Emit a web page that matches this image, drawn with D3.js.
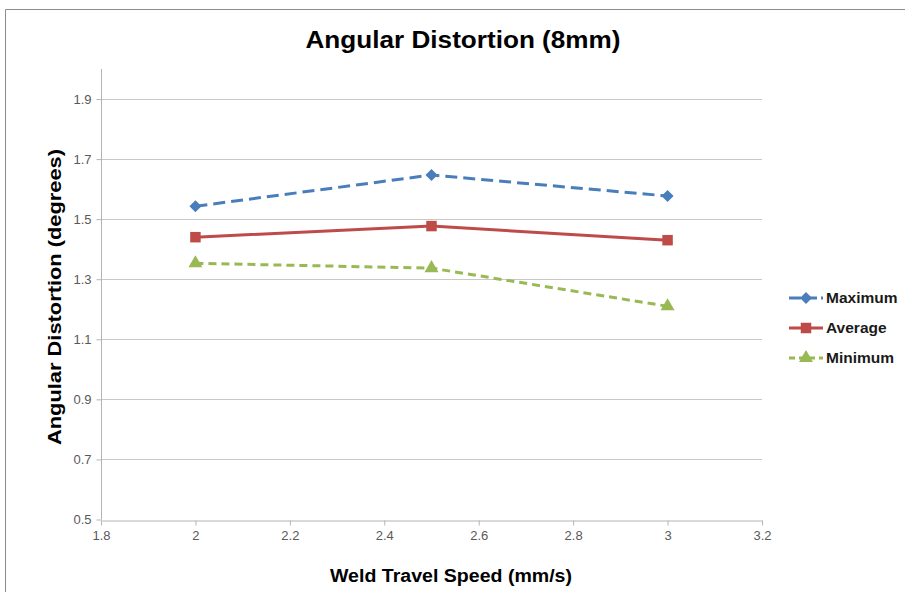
<!DOCTYPE html>
<html>
<head>
<meta charset="utf-8">
<script src="https://cdn.jsdelivr.net/npm/d3@7"></script>
<style>
  body { margin: 0; background: #fff; }
  svg { display: block; font-family: "Liberation Sans", Arial, sans-serif; }
</style>
</head>
<body>
<svg width="905" height="592"></svg>
<script>
const speeds = [2, 2.5, 3];
const maximum = [1.543, 1.647, 1.577];
const average = [1.44, 1.477, 1.43];
const minimum = [1.353, 1.337, 1.21];
const xTicks = [1.8, 2, 2.2, 2.4, 2.6, 2.8, 3, 3.2];
const yTicks = [0.5, 0.7, 0.9, 1.1, 1.3, 1.5, 1.7, 1.9];

const series = [
  { name: "Maximum", values: maximum, color: "#4a7ebb", dash: "12,6", marker: "diamond" },
  { name: "Average", values: average, color: "#be4b48", dash: null, marker: "square" },
  { name: "Minimum", values: minimum, color: "#98b954", dash: "8,5", marker: "triangle" }
];

const svg = d3.select("svg");

// chart frame
svg.append("path")
  .attr("d", "M5.5,592 L5.5,9.5 L905,9.5")
  .attr("fill", "none")
  .attr("stroke", "#8c8c8c")
  .attr("stroke-width", 1);

const x = d3.scaleLinear().domain([1.8, 3.2]).range([101, 762]);
const y = d3.scaleLinear().domain([0.5, 2.0]).range([519.5, 69]);

// gridlines
svg.append("g")
  .selectAll("line")
  .data(yTicks.slice(1))
  .join("line")
  .attr("x1", x(1.8))
  .attr("x2", x(3.2))
  .attr("y1", d => Math.round(y(d)) + 0.5)
  .attr("y2", d => Math.round(y(d)) + 0.5)
  .attr("stroke", "#c8c8c8")
  .attr("stroke-width", 1);

// y axis
const yAxis = svg.append("g")
  .attr("transform", `translate(${x(1.8) + 0.5},0)`)
  .call(d3.axisLeft(y).tickValues(yTicks).tickSize(5).tickSizeOuter(0).tickFormat(d3.format(".1f")));
yAxis.select(".domain").attr("stroke", "#b4b4b4").attr("d", `M0,${y(2.0)}V${y(0.5)}`);
yAxis.selectAll(".tick line").attr("stroke", "#b4b4b4");
yAxis.selectAll(".tick text")
  .attr("x", -10)
  .attr("fill", "#595959")
  .style("font-size", "13px");

// x axis
const xAxis = svg.append("g")
  .attr("transform", `translate(0,${Math.round(y(0.5)) + 0.5})`)
  .call(d3.axisBottom(x).tickValues(xTicks).tickSize(5).tickSizeOuter(0).tickFormat(d3.format("")));
xAxis.select(".domain").attr("stroke", "#b4b4b4");
xAxis.selectAll(".tick line").attr("stroke", "#b4b4b4");
xAxis.selectAll(".tick text")
  .attr("y", 10)
  .attr("fill", "#595959")
  .style("font-size", "13px");

// titles
svg.append("text")
  .attr("x", 463).attr("y", 48)
  .attr("text-anchor", "middle")
  .style("font-size", "23px").style("font-weight", "bold")
  .attr("textLength", 315).attr("lengthAdjust", "spacingAndGlyphs")
  .text("Angular Distortion (8mm)");

svg.append("text")
  .attr("x", 451).attr("y", 582)
  .attr("text-anchor", "middle")
  .style("font-size", "18px").style("font-weight", "bold")
  .attr("textLength", 242).attr("lengthAdjust", "spacingAndGlyphs")
  .text("Weld Travel Speed (mm/s)");

svg.append("text")
  .attr("transform", "translate(61,297) rotate(-90)")
  .attr("text-anchor", "middle")
  .style("font-size", "18px").style("font-weight", "bold")
  .attr("textLength", 296).attr("lengthAdjust", "spacingAndGlyphs")
  .text("Angular Distortion (degrees)");

// diamond = square turned 45 degrees, square and triangle as d3 symbols
const symbolType = { diamond: d3.symbolSquare, square: d3.symbolSquare, triangle: d3.symbolTriangle };
const symbolSize = { diamond: 72, square: 110, triangle: 85 };
const symbolRot = { diamond: 45, square: 0, triangle: 0 };

const line = d3.line().x(d => x(d[0])).y(d => y(d[1]));

series.forEach(s => {
  const pts = speeds.map((v, i) => [v, s.values[i]]);
  const g = svg.append("g");
  g.append("path")
    .datum(pts)
    .attr("d", line)
    .attr("fill", "none")
    .attr("stroke", s.color)
    .attr("stroke-width", 3)
    .attr("stroke-dasharray", s.dash);
  g.selectAll("path.marker")
    .data(pts)
    .join("path")
    .attr("class", "marker")
    .attr("transform", d => `translate(${x(d[0])},${y(d[1])}) rotate(${symbolRot[s.marker]})`)
    .attr("d", d3.symbol().type(symbolType[s.marker]).size(symbolSize[s.marker]))
    .attr("fill", s.color);
});

// legend
const legend = svg.append("g").attr("transform", "translate(789,298)");
series.forEach((s, i) => {
  const g = legend.append("g").attr("transform", `translate(0,${i * 30})`);
  g.append("line")
    .attr("x1", 0).attr("x2", 34)
    .attr("stroke", s.color)
    .attr("stroke-width", 3)
    .attr("stroke-dasharray", s.dash ? (s.marker === "diamond" ? "12,4" : "6,4") : null);
  g.append("path")
    .attr("transform", `translate(17,0) rotate(${symbolRot[s.marker]})`)
    .attr("d", d3.symbol().type(symbolType[s.marker]).size(symbolSize[s.marker]))
    .attr("fill", s.color);
  g.append("text")
    .attr("x", 37).attr("y", 5)
    .style("font-size", "15.5px").style("font-weight", "bold")
    .attr("fill", "#1a1a1a")
    .text(s.name);
});
</script>
</body>
</html>
